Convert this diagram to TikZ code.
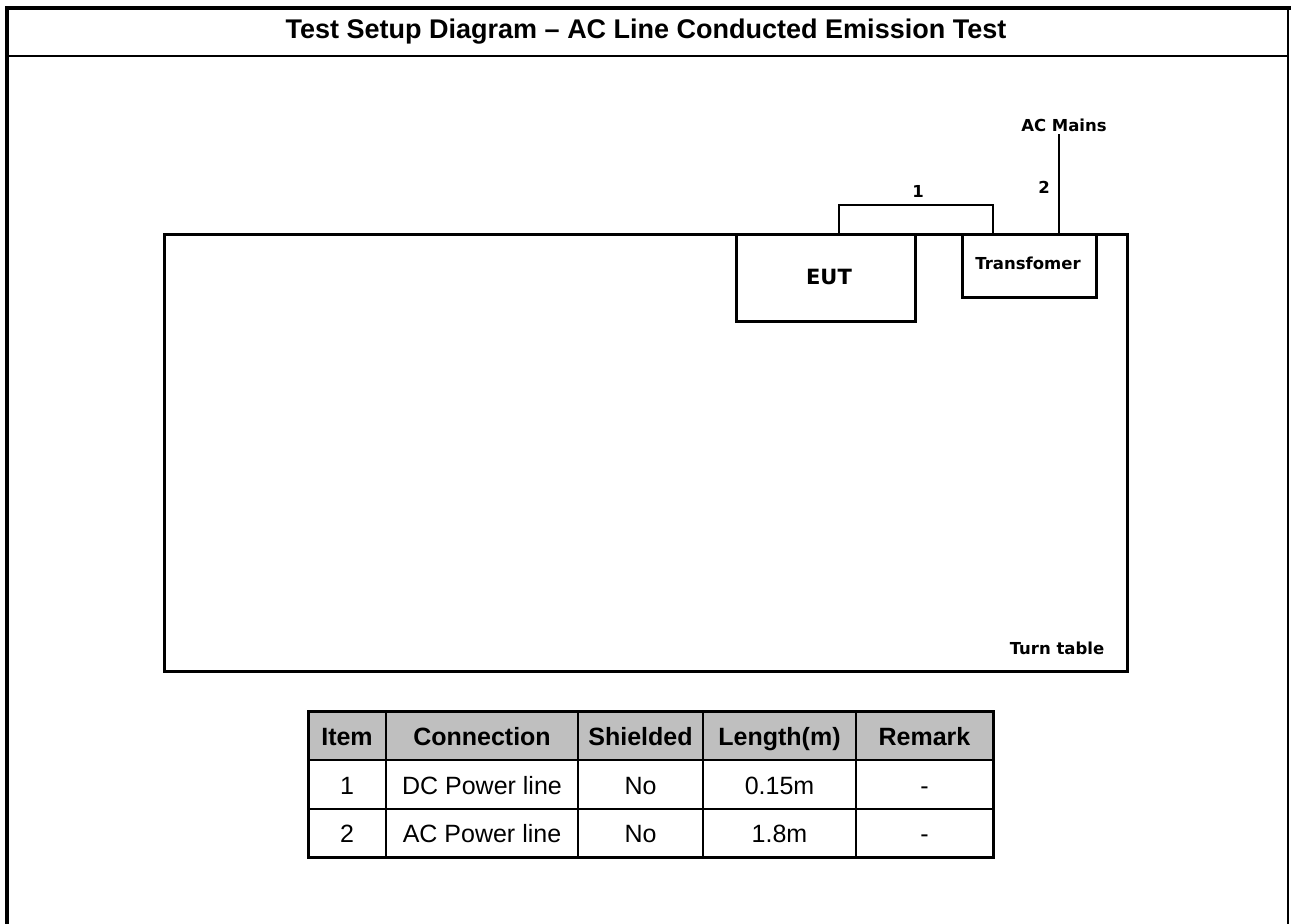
\documentclass[tikz,border=0pt]{standalone}
\usepackage{fontspec}
\setmainfont{Liberation Sans}
\newfontfamily\lblfont{DejaVu Sans}
\begin{document}
\begin{tikzpicture}[x=1pt,y=-1pt,
  box/.style={draw=black,line width=2.6pt,inner sep=0pt,anchor=north west},
  lbl/.style={font=\lblfont\bfseries\fontsize{16.5}{18}\selectfont,inner sep=0pt},
  cable/.style={line width=2.6pt},
  cell/.style={inner sep=0pt,anchor=base,font=\fontsize{25}{28}\selectfont},
  hcell/.style={inner sep=0pt,anchor=base,font=\bfseries\fontsize{25}{28}\selectfont}]
\useasboundingbox (0,0) rectangle (1291,924);
% outer frame
\draw[line width=4.5pt] (7,924) -- (7,8) -- (1291,8);
\draw[line width=2.5pt] (1288,8) -- (1288,924);
\draw[line width=2pt] (7,56) -- (1288,56);
\node[inner sep=0pt,font=\bfseries\fontsize{27}{30}\selectfont] (title) at (646,32) {Test Setup Diagram – AC Line Conducted Emission Test};
% turn table
\node[box,line width=3pt,minimum width=963pt,minimum height=437pt] (tt) at (163,233) {};
\node[lbl] (ttl) at (1057,648) {Turn table};
% EUT
\node[box,minimum width=179pt,minimum height=87pt] (eut) at (735,233) {};
\node[lbl,font=\lblfont\bfseries\fontsize{21}{24}\selectfont] (eutl) at (829,277) {EUT};
% Transformer
\node[box,minimum width=134pt,minimum height=63pt] (tr) at (961,233) {};
\node[lbl] (trl) at (1028,263) {Transfomer};
% cable 1
\coordinate (c1a) at (839,233);
\coordinate (c1b) at (993,233);
\draw[cable] (c1a) -- ++(0,-28) -| (c1b);
\node[lbl] (n1) at (918,191) {1};
% cable 2
\coordinate (c2a) at (1059,233);
\coordinate (c2b) at (1059,134);
\draw[cable] (c2a) -- (c2b);
\node[lbl] (n2) at (1044,187) {2};
\node[lbl] (acm) at (1064,125) {AC Mains};
% table
\fill[gray!50] (308,711) rectangle (993,760);
\draw[line width=2pt] (308,760) -- (993,760) (308,809) -- (993,809);
\draw[line width=2pt] (386,711) -- (386,857) (578,711) -- (578,857) (703,711) -- (703,857) (856,711) -- (856,857);
\draw[line width=3pt] (308,711) rectangle (993,857);
\node[hcell] (h1) at (347,745) {Item};
\node[hcell] (h2) at (482,745) {Connection};
\node[hcell] (h3) at (640.5,745) {Shielded};
\node[hcell] (h4) at (779.5,745) {Length(m)};
\node[hcell] (h5) at (924.5,745) {Remark};
\node[cell] (a1) at (347,794) {1};
\node[cell] (a2) at (482,794) {DC Power line};
\node[cell] (a3) at (640.5,794) {No};
\node[cell] (a4) at (779.5,794) {0.15m};
\node[cell] (a5) at (924.5,794) {-};
\node[cell] (b1) at (347,842) {2};
\node[cell] (b2) at (482,842) {AC Power line};
\node[cell] (b3) at (640.5,842) {No};
\node[cell] (b4) at (779.5,842) {1.8m};
\node[cell] (b5) at (924.5,842) {-};
\end{tikzpicture}
\end{document}
